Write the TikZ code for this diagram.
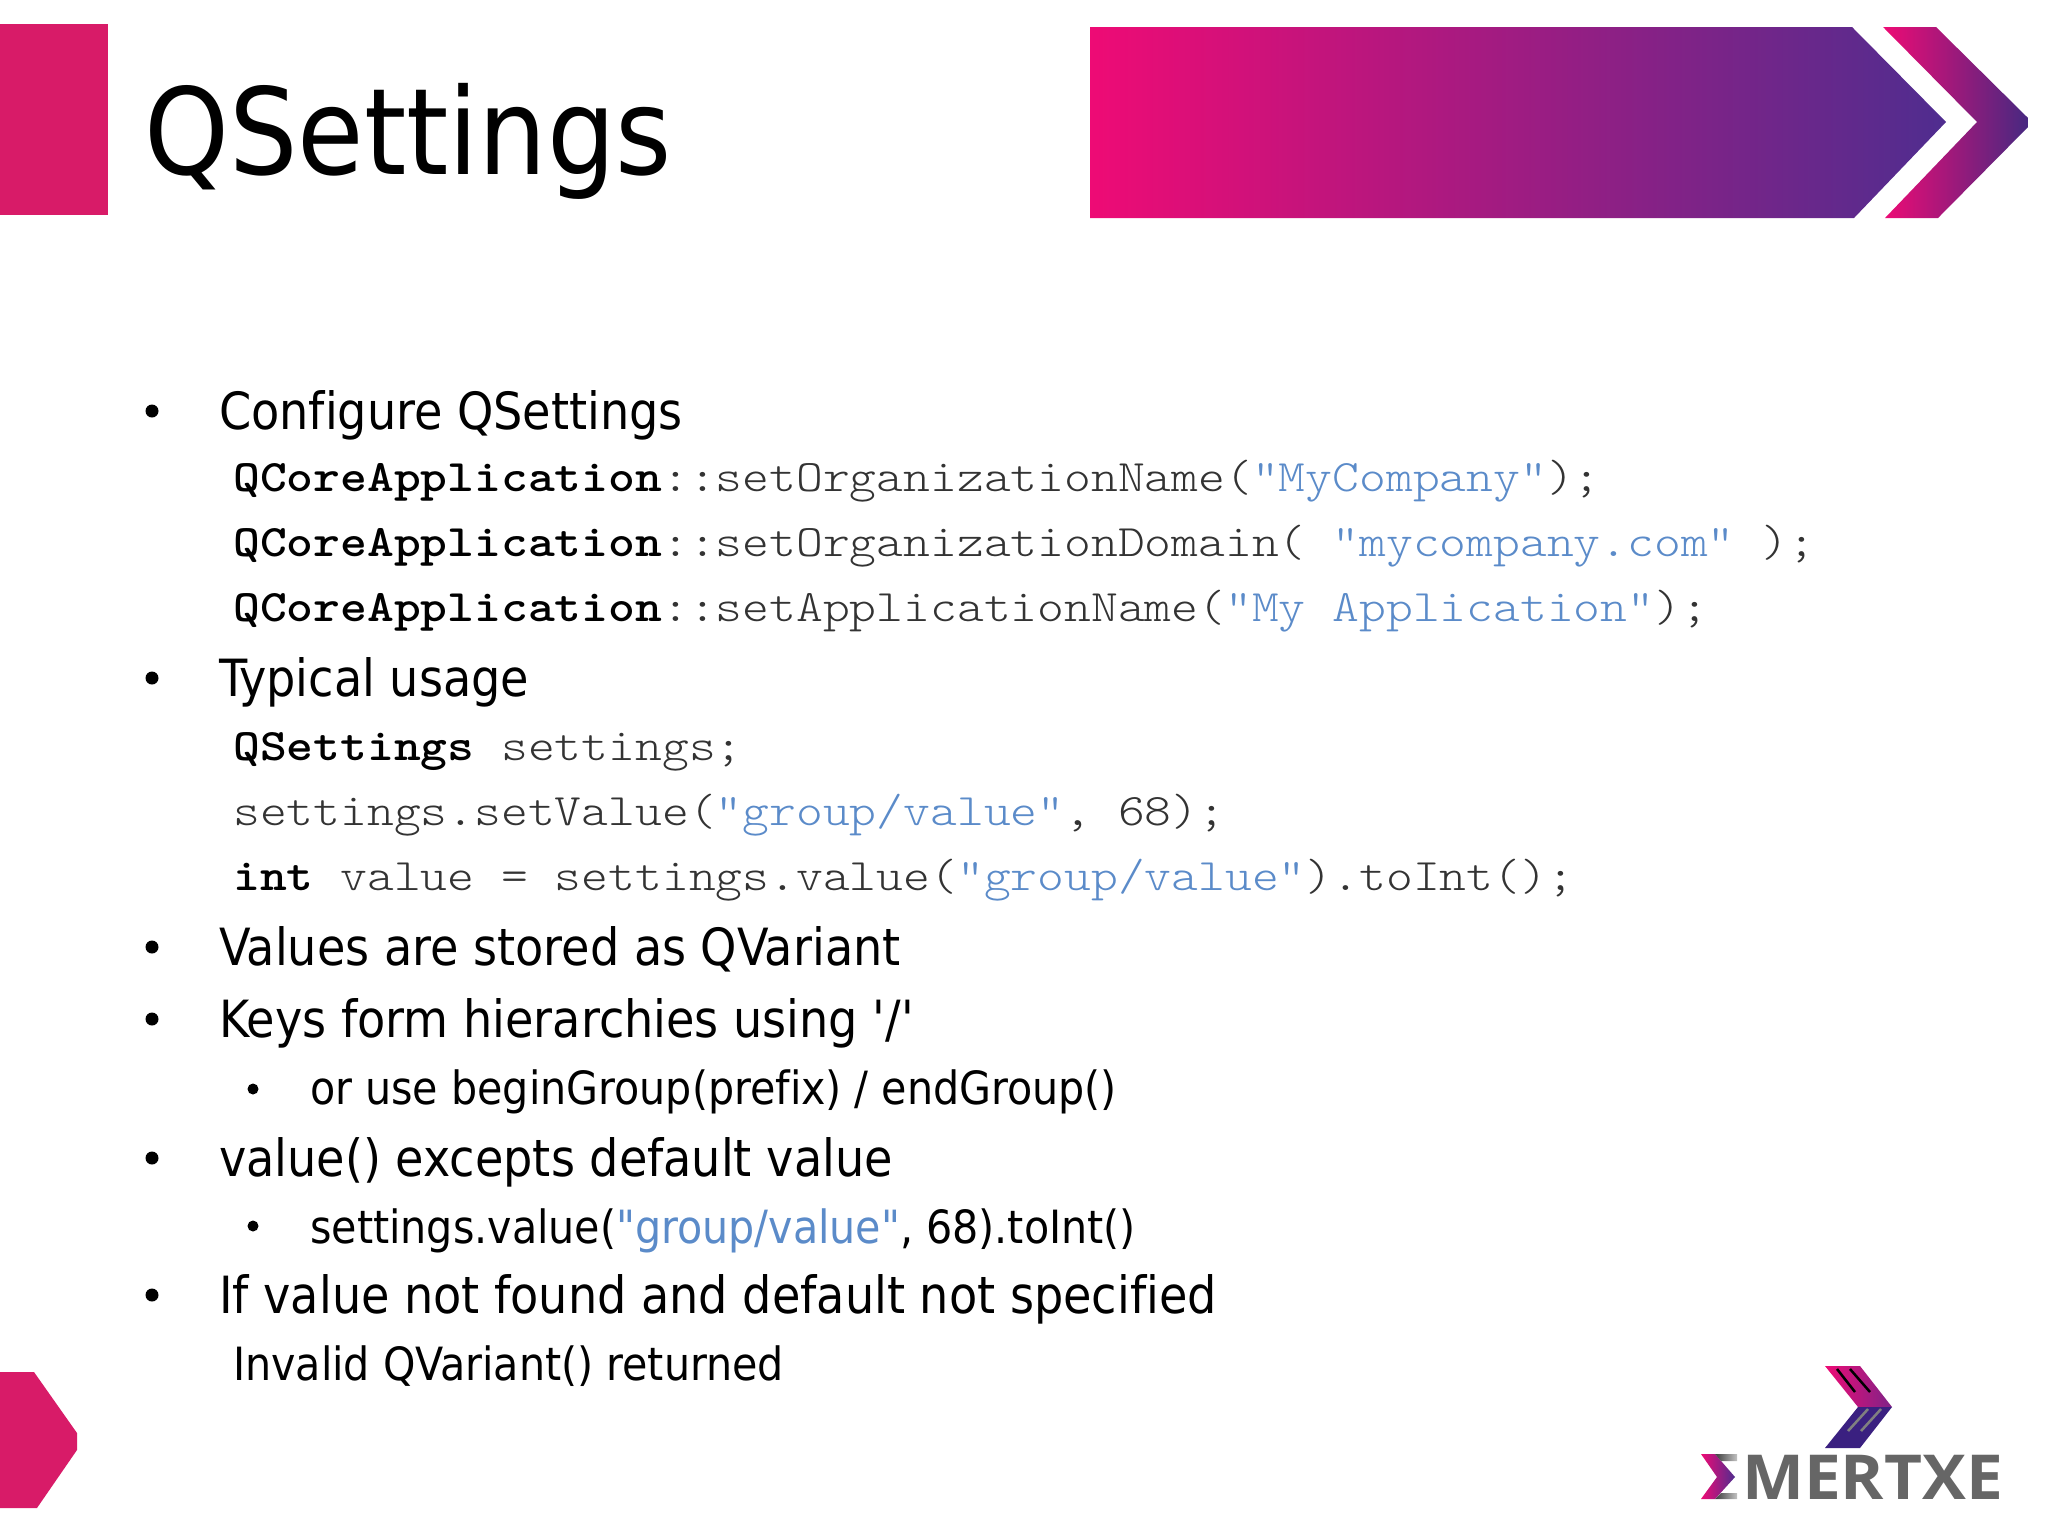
\documentclass[tikz,border=0pt]{standalone}
\usepackage{fontspec}
\usetikzlibrary{positioning}
\setmainfont[Ligatures=NoCommon]{DejaVu Sans Condensed}
\newfontfamily\codefont[FakeStretch=1.135]{Latin Modern Mono Light}
\newfontfamily\logofont[FakeStretch=1.06]{Open Sans}
\definecolor{slidepink}{HTML}{D81B68}
\definecolor{bannerpink}{HTML}{EE0B75}
\definecolor{bannerblue}{HTML}{4F2D8F}
\definecolor{strblue}{HTML}{5B8BC9}
\definecolor{codegray}{HTML}{333333}
\definecolor{logogray}{HTML}{666666}
\definecolor{logoblue}{HTML}{3A2080}
\newcommand{\str}[1]{\textcolor{strblue}{#1}}
\newcommand{\cls}[1]{\textcolor{black}{\bfseries #1}}
\tikzset{
  title/.style={anchor=base west,inner sep=0pt,font=\fontsize{120}{130}\selectfont},
  topline/.style={anchor=base west,inner sep=0pt,font=\fontsize{51.3}{56}\selectfont},
  subline/.style={anchor=base west,inner sep=0pt,font=\fontsize{45.8}{50}\selectfont},
  codeline/.style={anchor=base west,inner sep=0pt,text=codegray,font=\codefont\fontsize{45}{50}\selectfont},
  bulletdot/.style={circle,fill=black,inner sep=0pt,minimum size=#1}
}
\begin{document}
\begin{tikzpicture}[x=1pt,y=-1pt]
\useasboundingbox (0,0) rectangle (2048,1537);

\fill[slidepink] (0,24) rectangle (108,215);
\fill[slidepink] (0,1372) -- (34,1372) -- (77,1433) -- (77,1450) -- (37,1508) -- (0,1508) -- cycle;

% banner
\shade[left color=bannerpink,right color=bannerblue] (1090,27) -- (1852,27) -- (1946,122) -- (1854,218) -- (1090,218) -- cycle;
\shade[left color=bannerpink,right color=bannerblue!90!black] (1883,27) -- (1936,27) -- (2028,118) -- (2028,127) -- (1938,218) -- (1885,218) -- (1977,122) -- cycle;

\node[title] (titletext) at (144,174) {QSettings};

% edit here for the bullets
\foreach \y in {411,678,947,1019,1158,1295}
\node[bulletdot=13pt] (dot\y) at (152,\y) {};
\foreach \y in {1089,1226}
\node[bulletdot=11pt] (subdot\y) at (253,\y) {};

\node[topline] (configure) at (219,429) {Configure QSettings};
\node[codeline] (code1) at (233,491) {\cls{QCoreApplication}::setOrganizationName(\str{"MyCompany"});};
\node[codeline] (code2) at (233,556) {\cls{QCoreApplication}::setOrganizationDomain( \str{"mycompany.com"} );};
\node[codeline] (code3) at (233,621) {\cls{QCoreApplication}::setApplicationName(\str{"My Application"});};
\node[topline] (usage) at (219,696) {Typical usage};
\node[codeline] (code4) at (233,760) {\cls{QSettings} settings;};
\node[codeline] (code5) at (233,825) {settings.setValue(\str{"group/value"}, 68);};
\node[codeline] (code6) at (233,890) {\cls{int} value = settings.value(\str{"group/value"}).toInt();};
\node[topline] (stored) at (219,965) {Values are stored as QVariant};
\node[topline] (keys) at (219,1037) {Keys form hierarchies using \textquotesingle/\textquotesingle};
\node[subline] (group) at (310,1104) {or use beginGroup(prefix) / endGroup()};
\node[topline] (default) at (219,1176) {value() excepts default value};
\node[subline] (defcode) at (310,1243) {settings.value(\str{\textquotedbl group/value\textquotedbl}, 68).toInt()};
\node[topline] (notfound) at (219,1313) {If value not found and default not specified};
\node[subline] (invalid) at (233,1380) {Invalid QVariant() returned};

% logo
\shade[left color=bannerpink,right color=bannerblue!70!bannerpink] (1825,1366) -- (1860,1366) -- (1892,1407) -- (1858,1407) -- cycle;
\fill[logoblue] (1858,1407) -- (1892,1407) -- (1860,1448) -- (1825,1448) -- cycle;
\draw[black,line width=2.5pt] (1837,1369) -- (1855,1392);
\draw[black,line width=2.5pt] (1850,1369) -- (1870,1392);
\draw[gray,line width=2.5pt] (1868,1409) -- (1848,1431);
\draw[gray,line width=2.5pt] (1881,1409) -- (1861,1431);
\shade[left color=bannerpink,right color=bannerblue] (1701,1454) -- (1715,1454) -- (1735,1477) -- (1715,1499) -- (1701,1499) -- (1717,1477) -- cycle;
\shade[left color=logogray!60!black,right color=logogray!40] (1715,1454) -- (1737,1454) -- (1737,1461) -- (1721,1461) -- cycle;
\shade[left color=logogray!60!black,right color=logogray!40] (1721,1493) -- (1737,1493) -- (1737,1499) -- (1715,1499) -- cycle;
\node[anchor=base west,inner sep=0pt,text=logogray,font=\logofont\bfseries\fontsize{62}{70}\selectfont] (logotext) at (1742,1499) {MERTXE};
\end{tikzpicture}
\end{document}
